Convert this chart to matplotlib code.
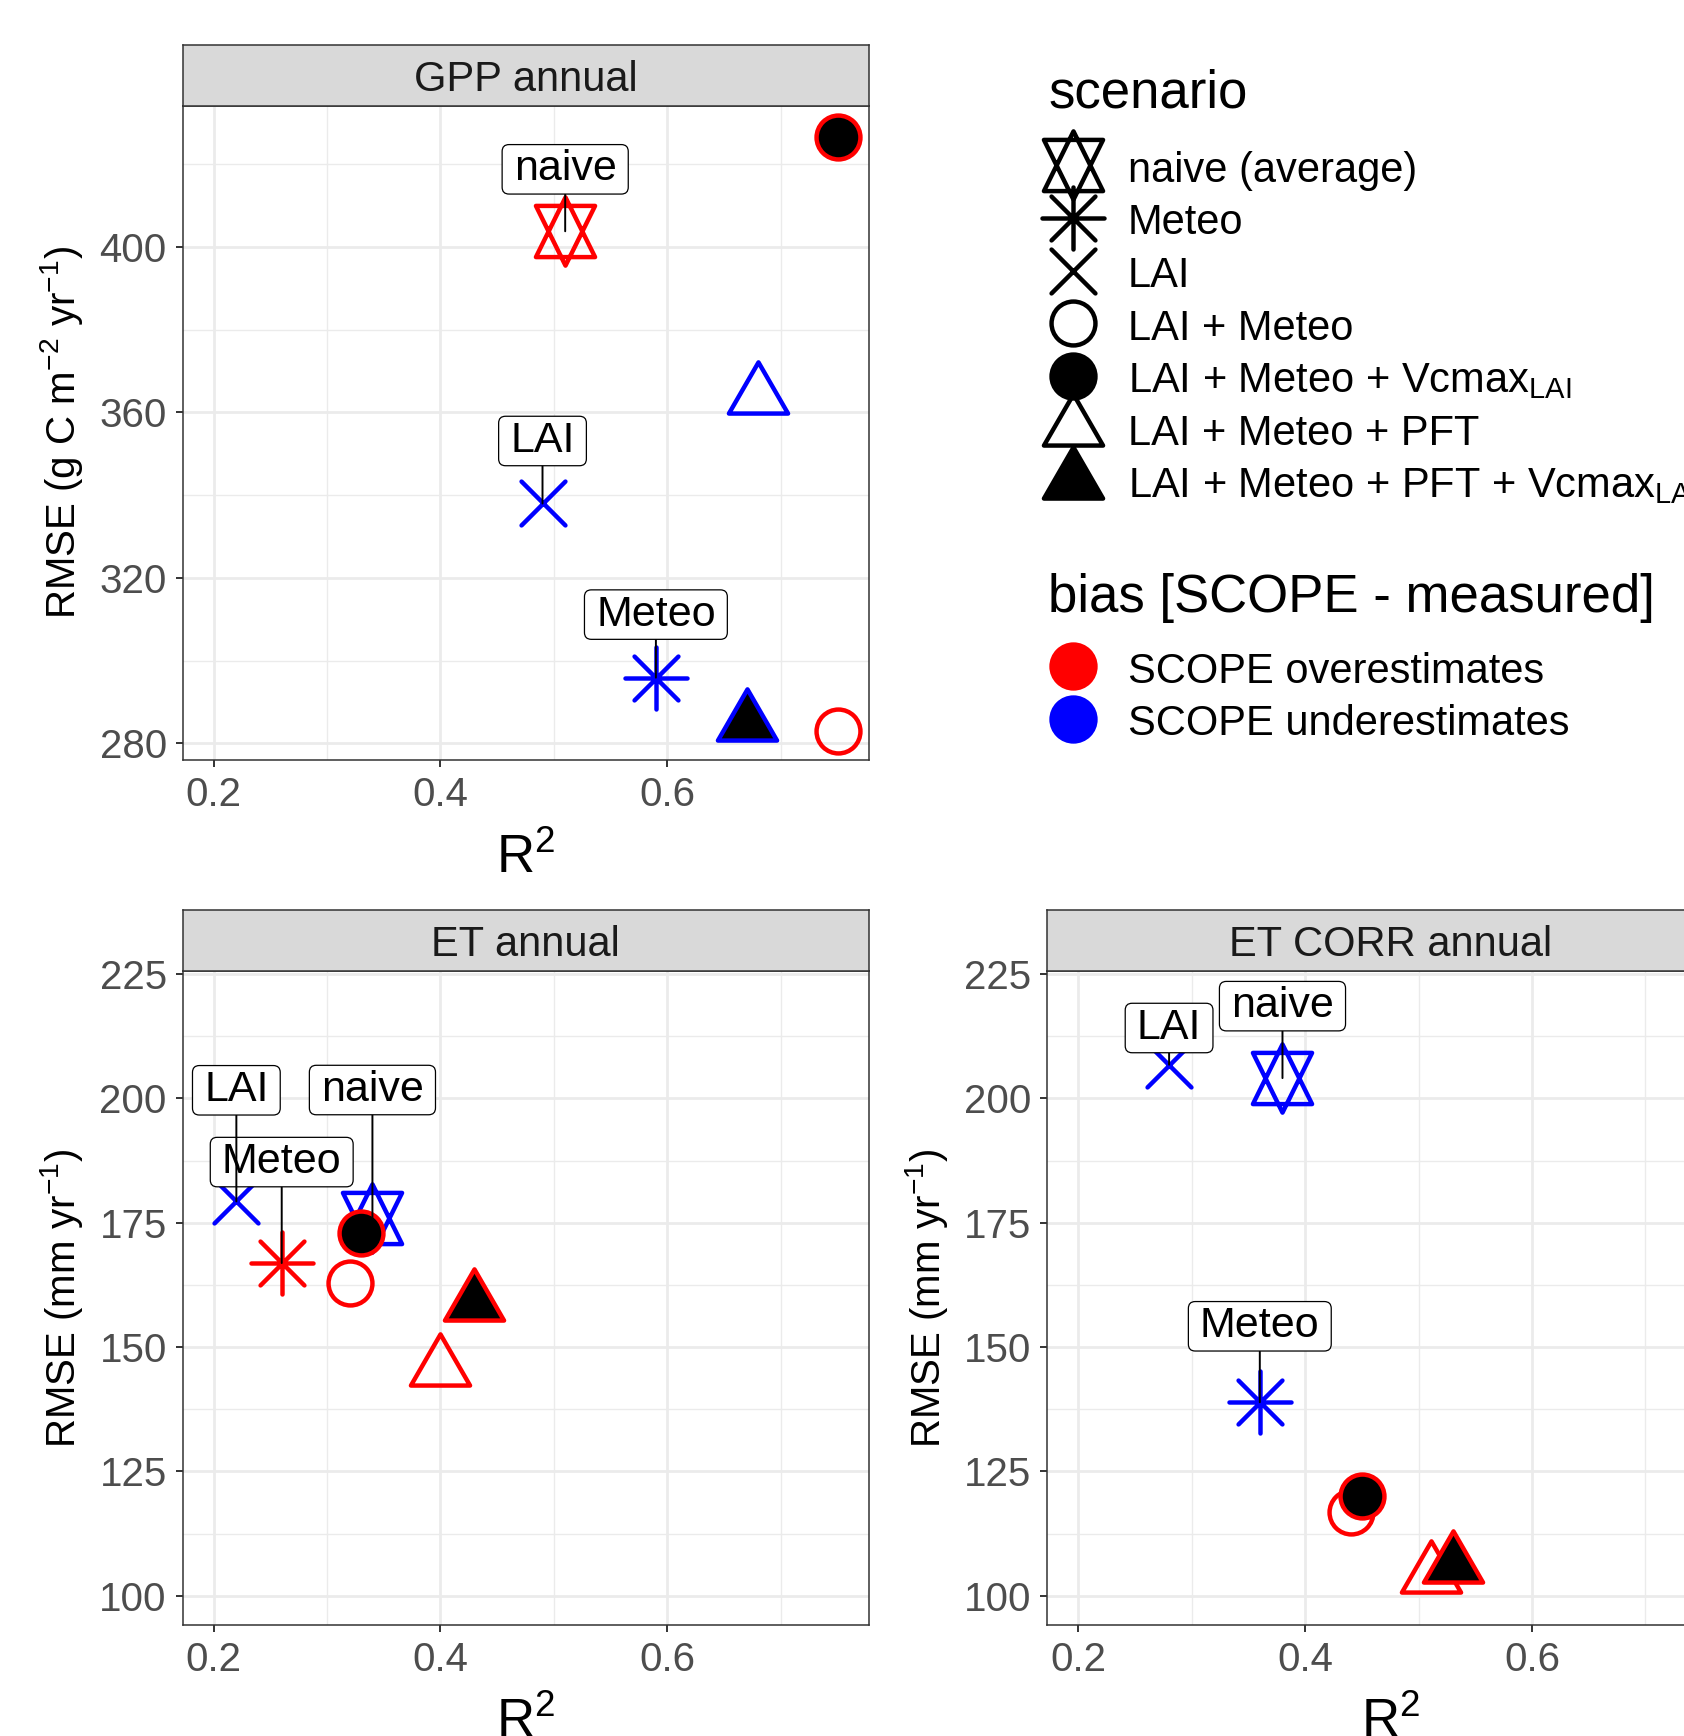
import numpy as np
import matplotlib
matplotlib.use('Agg')
import matplotlib.pyplot as plt
from matplotlib.path import Path
from matplotlib.markers import MarkerStyle
from matplotlib.lines import Line2D
from matplotlib.patches import BoxStyle
from matplotlib.ticker import FixedLocator

plt.rcParams['font.family'] = ['Liberation Sans', 'DejaVu Sans']
plt.rcParams['mathtext.fontset'] = 'custom'
plt.rcParams['mathtext.rm'] = 'Liberation Sans'
plt.rcParams['mathtext.it'] = 'Liberation Sans:italic'
plt.rcParams['mathtext.bf'] = 'Liberation Sans:bold'
plt.rcParams['mathtext.default'] = 'regular'

# ---------------- data ----------------
scenarios = ['naive (average)', 'Meteo', 'LAI', 'LAI + Meteo',
             'LAI + Meteo + Vcmax$_{LAI}$', 'LAI + Meteo + PFT',
             'LAI + Meteo + PFT + Vcmax$_{LAI}$']
short_labels = ['naive', 'Meteo', 'LAI']   # labelled scenarios (first three)

bias_levels = ['SCOPE overestimates', 'SCOPE underestimates']

gpp_r2 = [0.510, 0.590, 0.490, 0.751, 0.751, 0.680, 0.670]
gpp_rmse = [403.8, 295.9, 338.0, 283.0, 426.7, 363.9, 285.0]
gpp_bias = ['over', 'under', 'under', 'over', 'over', 'under', 'under']

et_r2 = [0.340, 0.260, 0.220, 0.320, 0.330, 0.400, 0.430]
et_rmse = [176.0, 166.9, 179.3, 162.8, 173.0, 145.7, 158.9]
et_bias = ['under', 'over', 'under', 'over', 'over', 'over', 'over']

etc_r2 = [0.380, 0.360, 0.280, 0.440, 0.450, 0.511, 0.530]
etc_rmse = [204.1, 138.9, 206.8, 116.9, 120.0, 104.1, 106.1]
etc_bias = ['under', 'under', 'under', 'over', 'over', 'over', 'over']

x_ticks = [0.2, 0.4, 0.6]
gpp_yticks = [280, 320, 360, 400]
et_yticks = [100, 125, 150, 175, 200, 225]

# ---------------- styles ----------------
W, H, DPI = 1684, 1736, 100
RED, BLUE = '#FF0000', '#0000FF'
bias_color = {'over': RED, 'under': BLUE}
CR = 15.8          # circle radius (pt)
MEW = 3.2          # marker stroke (pt)

TRC0 = np.sqrt(4 * np.pi / (3 * np.sqrt(3)))
TRC1 = TRC0 * np.sqrt(3) / 2
TRC2 = TRC0 / 2
YC11 = 0.5 * (TRC2 + TRC0)


def poly(vs):
    v = list(vs) + [vs[0]]
    c = [Path.MOVETO] + [Path.LINETO] * (len(vs) - 1) + [Path.CLOSEPOLY]
    return v, c


def make_path(polys=(), segs=()):
    V, C = [], []
    for p in polys:
        v, c = poly(p)
        V += v
        C += c
    for a, b in segs:
        V += [a, b]
        C += [Path.MOVETO, Path.LINETO]
    return Path(V, C)


tri = make_path(polys=[[(0, TRC0), (TRC1, -TRC2), (-TRC1, -TRC2)]])
star = make_path(polys=[[(0, TRC0), (TRC1, -YC11), (-TRC1, -YC11)],
                        [(0, -TRC0), (TRC1, YC11), (-TRC1, YC11)]])
s2 = np.sqrt(2)
aster = make_path(segs=[((-1, -1), (1, 1)), ((-1, 1), (1, -1)),
                        ((-s2, 0), (s2, 0)), ((0, -s2), (0, s2))])
xmark = make_path(segs=[((-1, -1), (1, 1)), ((-1, 1), (1, -1))])

shape_defs = [
    (MarkerStyle(star, joinstyle='miter'), 2 * TRC0 * CR, False),
    (MarkerStyle(aster, capstyle='round'), 2 * s2 * CR, False),
    (MarkerStyle(xmark, capstyle='round'), 2 * CR, False),
    (MarkerStyle('o'), 2 * CR, False),
    (MarkerStyle('o'), 2 * CR, True),
    (MarkerStyle(tri, joinstyle='miter'), 2 * TRC0 * CR, False),
    (MarkerStyle(tri, joinstyle='miter'), 2 * TRC0 * CR, True),
]

_round = BoxStyle.Round(pad=0, rounding_size=0.16)


def label_box(x0, y0, width, height, mutation_size):
    padx = 0.27 * mutation_size
    pady = 0.11 * mutation_size
    return _round(x0 - padx, y0 - pady, width + 2 * padx, height + 2 * pady,
                  mutation_size)


fig = plt.figure(figsize=(W / DPI, H / DPI), dpi=DPI)
fig.patch.set_facecolor('white')


def rect(left, top, right, bottom):
    return [left / W, 1 - bottom / H, (right - left) / W, (bottom - top) / H]


panels = [
    dict(title='GPP annual', r2=gpp_r2, rmse=gpp_rmse, bias=gpp_bias,
         ylabel='RMSE (g C m$^{-2}$ yr$^{-1}$)', ylim=(275.9, 434.2),
         yticks=gpp_yticks, box=(182.5, 105.5, 868.5, 760.4), strip=44.9,
         label_dy=[44.6, 45.4, 45.0]),
    dict(title='ET annual', r2=et_r2, rmse=et_rmse, bias=et_bias,
         ylabel='RMSE (mm yr$^{-1}$)', ylim=(94.1, 225.6),
         yticks=et_yticks, box=(182.5, 971.2, 868.5, 1625.0), strip=910.0,
         label_dy=[92.0, 72.7, 80.0]),
    dict(title='ET CORR annual', r2=etc_r2, rmse=etc_rmse, bias=etc_bias,
         ylabel='RMSE (mm yr$^{-1}$)', ylim=(94.1, 225.6),
         yticks=et_yticks, box=(1047.2, 971.2, 1733.2, 1625.0), strip=910.0,
         label_dy=[51.8, 54.7, 26.4]),
]

for p in panels:
    l, t, r, b = p['box']
    ax = fig.add_axes(rect(l, t, r, b))
    ax.set_xlim(0.1725, 0.7775)
    ax.set_ylim(*p['ylim'])
    ax.set_axisbelow(True)
    ax.set_xticks(x_ticks)
    ax.set_xticklabels(['%.1f' % v for v in x_ticks])
    ax.set_yticks(p['yticks'])
    yt = p['yticks']
    ax.xaxis.set_minor_locator(FixedLocator([v + 0.1 for v in x_ticks]))
    ax.yaxis.set_minor_locator(FixedLocator([(a + c) / 2 for a, c in zip(yt[:-1], yt[1:])]
                                            + [yt[-1] + (yt[1] - yt[0]) / 2]))
    ax.grid(which='major', color='#EBEBEB', lw=2.0)
    ax.grid(which='minor', color='#EBEBEB', lw=1.0)
    ax.tick_params(which='major', length=5.3, width=1.4, color='#333333',
                   labelsize=29, labelcolor='#4D4D4D', pad=6)
    ax.tick_params(which='minor', length=0)
    for s in ax.spines.values():
        s.set_color('#333333')
        s.set_linewidth(1.1)
    ax.set_ylabel(p['ylabel'], fontsize=29, color='black', va='baseline')
    ax.yaxis.set_label_coords((75 - 182.5) / 686.0, 0.5)
    ax.set_xlabel('R$^2$', fontsize=38, color='black', va='baseline')
    ax.xaxis.set_label_coords(0.5, (760.4 - 873.0) / 654.9)

    for i in range(len(scenarios)):
        m, ms, filled = shape_defs[i]
        col = bias_color[p['bias'][i]]
        ax.plot([p['r2'][i]], [p['rmse'][i]], ls='none', marker=m, ms=ms,
                mec=col, mfc='black' if filled else 'none', mew=MEW,
                zorder=3 + 0.01 * i, clip_on=False)

    for i, lab in enumerate(short_labels):
        ax.annotate(lab, xy=(p['r2'][i], p['rmse'][i]), xytext=(0, p['label_dy'][i]),
                    textcoords='offset points', ha='center', va='center',
                    fontsize=31, color='black', zorder=6,
                    bbox=dict(boxstyle=label_box, fc='white', ec='black', lw=0.9),
                    arrowprops=dict(arrowstyle='-', color='black', lw=1.4,
                                    shrinkA=0, shrinkB=0))

    # facet strip
    sax = fig.add_axes(rect(l, p['strip'], r, t))
    sax.set_facecolor('#D9D9D9')
    sax.set_xticks([])
    sax.set_yticks([])
    for s in sax.spines.values():
        s.set_color('#333333')
        s.set_linewidth(1.1)
    sax.text(0.5, 0.5, p['title'], transform=sax.transAxes, ha='center',
             va='center_baseline', fontsize=30, color='#1A1A1A')

# ---------------- legends ----------------
FS = 30
h1 = [Line2D([], [], ls='none', marker=m, ms=ms, mec='black',
             mfc='black' if filled else 'none', mew=MEW) for m, ms, filled in shape_defs]
leg1 = fig.legend(h1, scenarios, loc='upper left',
                  bbox_to_anchor=(1048 / W, 1 - 69 / H), bbox_transform=fig.transFigure,
                  frameon=False, fontsize=FS, title='scenario', title_fontsize=38,
                  alignment='left', handlelength=1.2, handleheight=1.0,
                  handletextpad=0.72, labelspacing=0.255, borderpad=0, borderaxespad=0)
leg1._legend_box.sep = 30.0 * 72.0 / DPI

h2 = [Line2D([], [], ls='none', marker='o', ms=2 * CR, mec=c, mfc=c, mew=MEW)
      for c in (RED, BLUE)]
leg2 = fig.legend(h2, bias_levels, loc='upper left',
                  bbox_to_anchor=(1048 / W, 1 - 573 / H), bbox_transform=fig.transFigure,
                  frameon=False, fontsize=FS, title='bias [SCOPE - measured]',
                  title_fontsize=38, alignment='left', handlelength=1.2,
                  handleheight=1.0, handletextpad=0.72, labelspacing=0.255,
                  borderpad=0, borderaxespad=0)
leg2._legend_box.sep = 27.0 * 72.0 / DPI

fig.savefig('out.png', dpi=DPI, facecolor='white')
